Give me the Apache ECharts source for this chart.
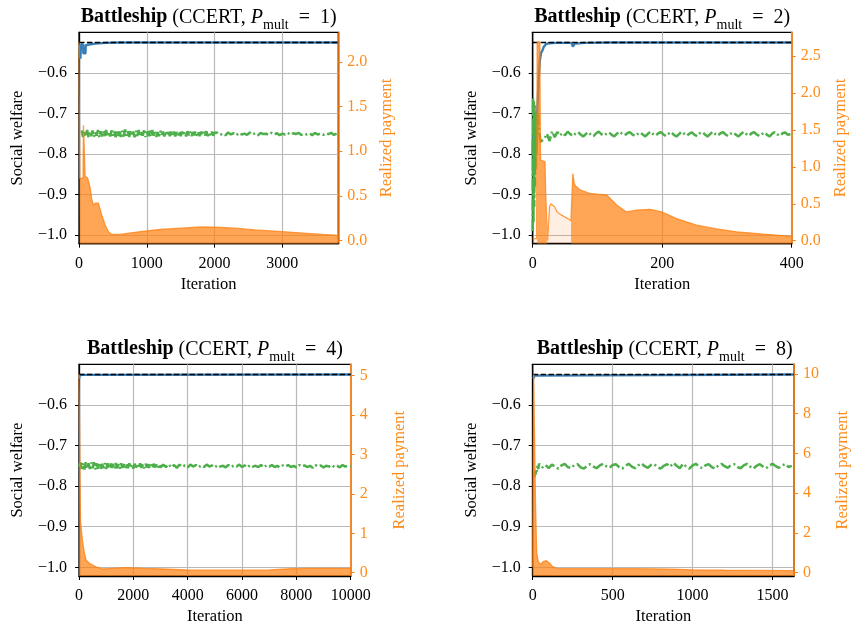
<!DOCTYPE html>
<html><head><meta charset="utf-8">
<script src="https://cdn.jsdelivr.net/npm/echarts@6/dist/echarts.min.js"></script>
<style>html,body{margin:0;padding:0;background:#fff}#c{width:852px;height:629px}</style>
</head><body><div id="c"></div><script>
// ---------------- data ----------------
const pMult = [1, 2, 4, 8];
const iterMax = [3825, 400, 10000, 1634];
const xTicks = [[0,1000,2000,3000],[0,200,400],[0,2000,4000,6000,8000,10000],[0,500,1000,1500]];
const welfareTicks = [-1.0,-0.9,-0.8,-0.7,-0.6];
const paymentTicks = [[0,0.5,1,1.5,2],[0,0.5,1,1.5,2,2.5],[0,1,2,3,4,5],[0,2,4,6,8,10]];
const paymentDecimals = [1,1,0,0];
const optimalWelfare = -0.525;

// CCERT social welfare (blue)
const blue1 = [[0,-0.53],[15,-0.53],[20,-0.565],[30,-0.53],[62,-0.53],[64,-0.552],[95,-0.552],[100,-0.532],[150,-0.530],[240,-0.528],[400,-0.526],[600,-0.525],[3825,-0.525]];
const blue2 = [[0,-0.80],[1,-0.72],[2,-0.81],[3,-0.73],[4,-0.80],[5,-0.74],[6,-0.79],[7,-0.70],[9,-0.62],[11,-0.57],[13,-0.55],[15,-0.545],[17,-0.536],[20,-0.530],[25,-0.527],[35,-0.526],[60,-0.526],[62,-0.535],[65,-0.528],[80,-0.526],[120,-0.525],[400,-0.525]];
const blue3 = [[5,-0.535],[20,-0.527],[100,-0.526],[10000,-0.525]];
const blue4 = [[5,-0.535],[10,-0.528],[20,-0.526],[1634,-0.525]];

// baseline social welfare (green, dash-dot)
const green1aStart = 40, green1aStep = 20;
const green1a = [-0.742,-0.758,-0.744,-0.757,-0.741,-0.759,-0.745,-0.756,-0.742,-0.758,
-0.746,-0.755,-0.741,-0.759,-0.744,-0.757,-0.743,-0.756,-0.741,-0.758,
-0.745,-0.757,-0.742,-0.755,-0.744,-0.759,-0.741,-0.756,-0.745,-0.758,
-0.743,-0.757,-0.740,-0.755,-0.744,-0.758,-0.742,-0.756,-0.745,-0.759,
-0.743,-0.756,-0.741,-0.757,-0.744,-0.755,-0.742,-0.758,-0.745,-0.756,
-0.743,-0.757,-0.741,-0.755,-0.744,-0.758,-0.746,-0.756,-0.743,-0.754,
-0.745,-0.757,-0.744,-0.755,-0.746,-0.756,-0.743,-0.755,-0.745,-0.757,
-0.746,-0.754,-0.744,-0.756,-0.745,-0.755,-0.746,-0.757,-0.744,-0.754,
-0.745,-0.756,-0.746,-0.754,-0.744,-0.755,-0.747,-0.756,-0.745,-0.754,
-0.746,-0.755,-0.744,-0.756,-0.747,-0.754,-0.745,-0.755,-0.747];
const green1bStart = 2040, green1bStep = 40;
const green1b = [-0.748,-0.753,-0.750,-0.754,-0.747,-0.752,-0.749,-0.754,-0.748,-0.752,
-0.750,-0.753,-0.747,-0.752,-0.749,-0.754,-0.748,-0.751,-0.750,-0.753,
-0.748,-0.752,-0.749,-0.754,-0.750,-0.752,-0.748,-0.753,-0.749,-0.751,
-0.748,-0.753,-0.750,-0.752,-0.749,-0.754,-0.748,-0.752,-0.750,-0.753,
-0.749,-0.751,-0.748,-0.753,-0.750];
const green2Early = [[0,-0.99],[0.6,-0.66],[1.2,-0.97],[1.8,-0.67],[2.4,-0.93],[3,-0.68],[3.6,-0.88],[4.2,-0.70],[4.8,-0.84],[5.4,-0.72],[6,-0.80],[7,-0.74],[8,-0.70],[10,-0.74],[12,-0.77]];
const green2Start = 14, green2Step = 4;
const green2 = [-0.772,-0.763,-0.750,-0.768,-0.744,-0.759,-0.746,-0.755,-0.748,-0.754,
-0.745,-0.751,-0.756,-0.750,-0.746,-0.752,-0.757,-0.751,-0.746,-0.753,
-0.756,-0.749,-0.745,-0.751,-0.755,-0.750,-0.747,-0.753,-0.757,-0.750,
-0.745,-0.750,-0.754,-0.749,-0.746,-0.752,-0.756,-0.751,-0.747,-0.752,
-0.757,-0.750,-0.745,-0.751,-0.755,-0.749,-0.746,-0.752,-0.756,-0.750,
-0.746,-0.753,-0.757,-0.751,-0.745,-0.750,-0.755,-0.750,-0.747,-0.753,
-0.756,-0.749,-0.746,-0.752,-0.757,-0.751,-0.745,-0.751,-0.755,-0.749,
-0.746,-0.752,-0.756,-0.750,-0.747,-0.753,-0.757,-0.750,-0.745,-0.751,
-0.755,-0.749,-0.746,-0.752,-0.756,-0.751,-0.747,-0.753,-0.757,-0.750,
-0.746,-0.752,-0.755,-0.749,-0.747,-0.753,-0.751];
const green3aStart = 0, green3aStep = 50;
const green3a = [-0.752,-0.742,-0.758,-0.743,-0.759,-0.741,-0.757,-0.744,-0.758,-0.742,
-0.756,-0.741,-0.759,-0.744,-0.757,-0.742,-0.758,-0.745,-0.756,-0.743,
-0.758,-0.744,-0.757,-0.742,-0.755,-0.745,-0.758,-0.743,-0.756,-0.746,
-0.757,-0.744,-0.755,-0.746,-0.758,-0.745,-0.756,-0.744,-0.755,-0.747,
-0.757,-0.745,-0.754,-0.746,-0.756,-0.744,-0.755,-0.747,-0.756,-0.745,
-0.754,-0.746,-0.756,-0.747,-0.755,-0.745,-0.754,-0.747,-0.756,-0.746,
-0.754];
const green3bStart = 3100, green3bStep = 100;
const green3b = [-0.747,-0.753,-0.746,-0.754,-0.748,-0.755,-0.747,-0.753,-0.749,
-0.754,-0.747,-0.752,-0.748,-0.754,-0.749,-0.753,-0.747,-0.752,-0.749,
-0.754,-0.748,-0.752,-0.750,-0.754,-0.748,-0.753,-0.749,-0.752,-0.747,
-0.753,-0.749,-0.754,-0.748,-0.752,-0.750,-0.753,-0.748,-0.754,-0.749,
-0.752,-0.748,-0.753,-0.750,-0.754,-0.749,-0.752,-0.748,-0.753,-0.750,
-0.754,-0.748,-0.752,-0.749,-0.753,-0.750,-0.755,-0.748,-0.752,-0.749,
-0.754,-0.750,-0.752,-0.748,-0.753,-0.750,-0.754,-0.748,-0.752,-0.750,
-0.751];
const green4Early = [[10,-0.778],[14,-0.766],[18,-0.772],[22,-0.757],[26,-0.764],[30,-0.750],[35,-0.758]];
const green4Start = 40, green4Step = 20;
const green4 = [-0.745,-0.754,-0.748,-0.756,-0.747,-0.752,-0.757,-0.749,-0.745,-0.753,
-0.756,-0.748,-0.746,-0.754,-0.757,-0.750,-0.746,-0.752,-0.756,-0.749,
-0.745,-0.751,-0.755,-0.748,-0.746,-0.753,-0.757,-0.750,-0.745,-0.752,
-0.756,-0.749,-0.744,-0.751,-0.755,-0.748,-0.746,-0.753,-0.757,-0.750,
-0.746,-0.752,-0.743,-0.750,-0.756,-0.745,-0.752,-0.757,-0.749,-0.745,
-0.752,-0.756,-0.749,-0.746,-0.753,-0.757,-0.750,-0.745,-0.751,-0.755,
-0.748,-0.746,-0.753,-0.756,-0.749,-0.745,-0.752,-0.757,-0.750,-0.746,
-0.752,-0.756,-0.749,-0.745,-0.751,-0.755,-0.749,-0.746,-0.753,-0.750];

// realized payment envelope (orange) and the densely oscillating parts
const pay1 = [[0,2.22],[8,2.22],[10,0.7],[60,0.7],[66,1.29],[84,1.29],[90,0.72],[128,0.70],[162,0.60],[187,0.47],[211,0.40],[246,0.42],[285,0.42],[334,0.29],[383,0.18],[433,0.10],[482,0.07],[600,0.07],[800,0.09],[1000,0.11],[1200,0.125],[1500,0.14],[1800,0.153],[2000,0.152],[2300,0.14],[2600,0.12],[3000,0.10],[3300,0.085],[3600,0.07],[3825,0.06]];
const pay2 = [[0,0.03],[6,0.03],[7,2.69],[11,2.69],[12,1.09],[19,1.07],[20,0.66],[22,0.64],[23,0.0],[25,0.0],[26,0.46],[28,0.50],[31,0.48],[34,0.46],[37,0.40],[42,0.36],[48,0.33],[54,0.30],[59,0.27],[62,0.91],[64,0.78],[66,0.74],[73,0.69],[88,0.64],[99,0.63],[114,0.62],[119,0.58],[130,0.48],[145,0.39],[161,0.415],[181,0.425],[199,0.39],[222,0.30],[253,0.21],[284,0.16],[315,0.12],[356,0.09],[400,0.06]];
const dense2 = [[7,2.69],[11,2.69],[12,1.09],[19,1.07],[20,0.66],[22,0.64],[23,null],[59.2,0.27],[62,0.91],[64,0.78],[66,0.74],[73,0.69],[88,0.64],[99,0.63],[114,0.62],[119,0.58],[130,0.48],[145,0.39],[161,0.415],[181,0.425],[199,0.39],[222,0.30],[253,0.21],[284,0.16],[315,0.12],[356,0.09],[400,0.06]];
const pay3 = [[0,5.04],[45,5.04],[55,1.3],[100,1.0],[130,0.8],[160,0.66],[200,0.49],[260,0.32],[380,0.24],[500,0.195],[620,0.15],[870,0.094],[1240,0.11],[1730,0.127],[2340,0.11],[3080,0.094],[3940,0.068],[5000,0.065],[6000,0.065],[7000,0.07],[7800,0.1],[8500,0.11],[10000,0.11]];
const pay4 = [[0,0.3],[6,9.99],[14,9.99],[18,3.2],[25,1.0],[35,0.55],[48,0.42],[65,0.55],[85,0.6],[105,0.48],[125,0.3],[155,0.2],[220,0.2],[400,0.2],[650,0.2],[870,0.18],[1000,0.14],[1200,0.12],[1400,0.11],[1634,0.1]];

// ---------------- layout / style ----------------
const F = "'Liberation Serif','DejaVu Serif',serif";
const ORANGE = '#ff7f0e';
const grids = [
  {left:79, top:32.3, width:259.3, height:211.4},
  {left:532.7, top:32.3, width:259, height:211.4},
  {left:79, top:364.3, width:271.7, height:211.7},
  {left:532.7, top:364.3, width:264, height:211.7}
];
const payRange = [[-0.034,2.33],[-0.04,2.82],[-0.084,5.29],[-0.17,10.49]];
const welfareRange = [-1.0214, -0.5];

function steps(start, step, vals){ return vals.map((v,k)=>[start+k*step, v]); }
const blues = [blue1, blue2, blue3, blue4];
const greens = [
  steps(green1aStart, green1aStep, green1a).concat(steps(green1bStart, green1bStep, green1b)),
  green2Early.concat(steps(green2Start, green2Step, green2)),
  steps(green3aStart, green3aStep, green3a).concat(steps(green3bStart, green3bStep, green3b)),
  green4Early.concat(steps(green4Start, green4Step, green4))
];
const pays = [pay1, pay2, pay3, pay4];
const denses = [pay1, dense2, pay3, pay4];

const fmtWelfare = v => (v < 0 ? '\u2212' : '') + Math.abs(v).toFixed(1);

const richBase = {fontFamily:F, fontSize:20, color:'#000', lineHeight:24, verticalAlign:'top', fontWeight:'normal'};
const option = {
  animation:false,
  backgroundColor:'#fff',
  grid: grids.map(g => Object.assign({show:true, borderColor:'#000', borderWidth:1.3, backgroundColor:'transparent'}, g)),
  title: pMult.map((p,i)=>({
    text: '{b|Battleship}{n| (CCERT, }{i|P}{s|mult}{n|  =  ' + p + ')}',
    left: grids[i].left + grids[i].width/2,
    top: grids[i].top - 25,
    textAlign:'center',
    padding:0,
    textStyle:{
      fontFamily:F, fontSize:20, color:'#000', fontWeight:'normal',
      rich:{
        b:Object.assign({}, richBase, {fontWeight:'bold'}),
        n:Object.assign({}, richBase),
        i:Object.assign({}, richBase, {fontStyle:'italic'}),
        s:{fontFamily:F, fontSize:14, color:'#000', fontWeight:'normal', lineHeight:14, padding:[11,0,0,0], verticalAlign:'top'}
      }
    }
  })),
  xAxis: grids.map((g,i)=>({
    type:'value', gridIndex:i, min:0, max:iterMax[i],
    axisLine:{show:true, onZero:false, lineStyle:{color:'#000', width:1.3}},
    axisTick:{show:true, inside:false, length:4, customValues:xTicks[i], lineStyle:{color:'#000', width:1}},
    axisLabel:{customValues:xTicks[i], formatter:v=>String(v), fontFamily:F, fontSize:16, color:'#000', margin:12},
    splitLine:{show:true, lineStyle:{color:'#b9b9b9', width:1.2}},
    name:'Iteration', nameLocation:'middle', nameGap:32,
    nameTextStyle:{fontFamily:F, fontSize:16.5, color:'#000'}
  })),
  yAxis: [].concat(...grids.map((g,i)=>[
    {
      type:'value', gridIndex:i, position:'left', min:welfareRange[0], max:welfareRange[1],
      axisLine:{show:true, onZero:false, lineStyle:{color:'#000', width:1.3}},
      axisTick:{show:true, length:4, customValues:welfareTicks, lineStyle:{color:'#000', width:1}},
      axisLabel:{customValues:welfareTicks, formatter:fmtWelfare, fontFamily:F, fontSize:16, color:'#000', margin:12},
      splitLine:{show:true, lineStyle:{color:'#b9b9b9', width:1.2}},
      name:'Social welfare', nameLocation:'middle', nameGap:53, nameRotate:90,
      nameTextStyle:{fontFamily:F, fontSize:16.5, color:'#000'}
    },
    {
      type:'value', gridIndex:i, position:'right', min:payRange[i][0], max:payRange[i][1],
      axisLine:{show:true, onZero:false, lineStyle:{color:ORANGE, width:1.6}},
      axisTick:{show:true, length:4, customValues:paymentTicks[i], lineStyle:{color:ORANGE, width:1}},
      axisLabel:{customValues:paymentTicks[i], formatter:v=>v.toFixed(paymentDecimals[i]), fontFamily:F, fontSize:16, color:'#ff8c1a', margin:9},
      splitLine:{show:false},
      name:'Realized payment', nameLocation:'middle', nameGap:40, nameRotate:90,
      nameTextStyle:{fontFamily:F, fontSize:16.5, color:'#ff8c1a'}
    }
  ])),
  series: [].concat(...grids.map((g,i)=>[
    {type:'line', xAxisIndex:i, yAxisIndex:2*i, data:blues[i], symbol:'none', z:3,
     lineStyle:{color:'#377eb8', width:2.4}},
    {type:'line', xAxisIndex:i, yAxisIndex:2*i, data:greens[i], symbol:'none', z:3,
     lineStyle:{color:'#4daf4a', width:2.5, type:[12,3,2,3]}},
    {type:'line', xAxisIndex:i, yAxisIndex:2*i, data:[[0,optimalWelfare],[iterMax[i],optimalWelfare]], symbol:'none', z:4,
     lineStyle:{color:'#000', width:1.5, type:[5.5,2.4]}},
    {type:'line', xAxisIndex:i, yAxisIndex:2*i+1, data:denses[i], symbol:'none', z:5,
     lineStyle:{width:0, opacity:0}, areaStyle:{color:ORANGE, opacity:0.66, origin:'start'}},
    {type:'line', xAxisIndex:i, yAxisIndex:2*i+1, data:pays[i], symbol:'none', z:5,
     lineStyle:{color:ORANGE, width:1.3, opacity:0.75}, areaStyle:{color:ORANGE, opacity:0.12, origin:'start'}}
  ]))
};
const chart = echarts.init(document.getElementById('c'), null, {renderer:'canvas'});
chart.setOption(option);
</script></body></html>
